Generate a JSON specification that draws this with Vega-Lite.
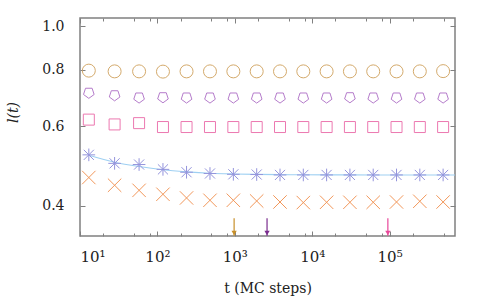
{
  "$schema": "https://vega.github.io/schema/vega-lite/v6.json",
  "width": 375,
  "height": 218,
  "autosize": "none",
  "padding": {"left": 80, "top": 18, "right": 25, "bottom": 64},
  "background": "white",
  "config": {
    "view": {"stroke": "#808080", "strokeWidth": 1.5},
    "font": "DejaVu Serif",
    "axis": {
      "labelFont": "DejaVu Serif",
      "titleFont": "DejaVu Serif",
      "labelFontSize": 14,
      "titleFontSize": 14,
      "titleFontWeight": "normal",
      "labelColor": "#222222",
      "titleColor": "#222222",
      "tickColor": "#808080",
      "tickWidth": 1,
      "domain": false,
      "grid": false
    }
  },
  "datasets": {
    "pts": [
      {"t": 13, "l": 0.797, "s": "circles"},
      {"t": 28, "l": 0.794, "s": "circles"},
      {"t": 58, "l": 0.794, "s": "circles"},
      {"t": 118, "l": 0.793, "s": "circles"},
      {"t": 238, "l": 0.794, "s": "circles"},
      {"t": 478, "l": 0.794, "s": "circles"},
      {"t": 958, "l": 0.794, "s": "circles"},
      {"t": 1918, "l": 0.794, "s": "circles"},
      {"t": 3838, "l": 0.794, "s": "circles"},
      {"t": 7678, "l": 0.794, "s": "circles"},
      {"t": 15358, "l": 0.794, "s": "circles"},
      {"t": 30718, "l": 0.794, "s": "circles"},
      {"t": 61438, "l": 0.794, "s": "circles"},
      {"t": 122878, "l": 0.794, "s": "circles"},
      {"t": 245758, "l": 0.794, "s": "circles"},
      {"t": 491518, "l": 0.795, "s": "circles"},
      {"t": 13, "l": 0.712, "s": "pentagons"},
      {"t": 28, "l": 0.703, "s": "pentagons"},
      {"t": 58, "l": 0.695, "s": "pentagons"},
      {"t": 118, "l": 0.696, "s": "pentagons"},
      {"t": 238, "l": 0.695, "s": "pentagons"},
      {"t": 478, "l": 0.695, "s": "pentagons"},
      {"t": 958, "l": 0.695, "s": "pentagons"},
      {"t": 1918, "l": 0.695, "s": "pentagons"},
      {"t": 3838, "l": 0.695, "s": "pentagons"},
      {"t": 7678, "l": 0.695, "s": "pentagons"},
      {"t": 15358, "l": 0.695, "s": "pentagons"},
      {"t": 30718, "l": 0.696, "s": "pentagons"},
      {"t": 61438, "l": 0.695, "s": "pentagons"},
      {"t": 122878, "l": 0.695, "s": "pentagons"},
      {"t": 245758, "l": 0.695, "s": "pentagons"},
      {"t": 491518, "l": 0.695, "s": "pentagons"},
      {"t": 13, "l": 0.621, "s": "squares"},
      {"t": 28, "l": 0.606, "s": "squares"},
      {"t": 58, "l": 0.610, "s": "squares"},
      {"t": 118, "l": 0.598, "s": "squares"},
      {"t": 238, "l": 0.598, "s": "squares"},
      {"t": 478, "l": 0.598, "s": "squares"},
      {"t": 958, "l": 0.598, "s": "squares"},
      {"t": 1918, "l": 0.598, "s": "squares"},
      {"t": 3838, "l": 0.598, "s": "squares"},
      {"t": 7678, "l": 0.598, "s": "squares"},
      {"t": 15358, "l": 0.598, "s": "squares"},
      {"t": 30718, "l": 0.598, "s": "squares"},
      {"t": 61438, "l": 0.598, "s": "squares"},
      {"t": 122878, "l": 0.598, "s": "squares"},
      {"t": 245758, "l": 0.598, "s": "squares"},
      {"t": 491518, "l": 0.598, "s": "squares"},
      {"t": 13, "l": 0.519, "s": "asterisks"},
      {"t": 28, "l": 0.497, "s": "asterisks"},
      {"t": 58, "l": 0.494, "s": "asterisks"},
      {"t": 118, "l": 0.482, "s": "asterisks"},
      {"t": 238, "l": 0.475, "s": "asterisks"},
      {"t": 478, "l": 0.472, "s": "asterisks"},
      {"t": 958, "l": 0.470, "s": "asterisks"},
      {"t": 1918, "l": 0.4695, "s": "asterisks"},
      {"t": 3838, "l": 0.4685, "s": "asterisks"},
      {"t": 7678, "l": 0.4685, "s": "asterisks"},
      {"t": 15358, "l": 0.4685, "s": "asterisks"},
      {"t": 30718, "l": 0.4685, "s": "asterisks"},
      {"t": 61438, "l": 0.4685, "s": "asterisks"},
      {"t": 122878, "l": 0.4685, "s": "asterisks"},
      {"t": 245758, "l": 0.4685, "s": "asterisks"},
      {"t": 491518, "l": 0.4685, "s": "asterisks"},
      {"t": 13, "l": 0.4624, "s": "crosses"},
      {"t": 28, "l": 0.4445, "s": "crosses"},
      {"t": 58, "l": 0.4332, "s": "crosses"},
      {"t": 118, "l": 0.4246, "s": "crosses"},
      {"t": 238, "l": 0.4167, "s": "crosses"},
      {"t": 478, "l": 0.4118, "s": "crosses"},
      {"t": 958, "l": 0.4118, "s": "crosses"},
      {"t": 1918, "l": 0.4103, "s": "crosses"},
      {"t": 3838, "l": 0.4082, "s": "crosses"},
      {"t": 7678, "l": 0.4070, "s": "crosses"},
      {"t": 15358, "l": 0.4076, "s": "crosses"},
      {"t": 30718, "l": 0.4076, "s": "crosses"},
      {"t": 61438, "l": 0.4076, "s": "crosses"},
      {"t": 122878, "l": 0.4082, "s": "crosses"},
      {"t": 245758, "l": 0.4097, "s": "crosses"},
      {"t": 491518, "l": 0.4082, "s": "crosses"}
    ],
    "fit": [
      {"t": 13, "l": 0.518},
      {"t": 28, "l": 0.500},
      {"t": 58, "l": 0.489},
      {"t": 118, "l": 0.481},
      {"t": 238, "l": 0.476},
      {"t": 478, "l": 0.4725},
      {"t": 958, "l": 0.4708},
      {"t": 1918, "l": 0.4698},
      {"t": 3838, "l": 0.4692},
      {"t": 7678, "l": 0.4689},
      {"t": 15358, "l": 0.4687},
      {"t": 30718, "l": 0.4686},
      {"t": 61438, "l": 0.4685},
      {"t": 122878, "l": 0.4685},
      {"t": 245758, "l": 0.4685},
      {"t": 700000, "l": 0.4685}
    ],
    "arrows": [
      {"t": 980, "top": 0.376, "bottom": 0.3437, "tip": 0.3487, "s": "arrow1"},
      {"t": 2610, "top": 0.376, "bottom": 0.3437, "tip": 0.3487, "s": "arrow2"},
      {"t": 95000, "top": 0.376, "bottom": 0.3437, "tip": 0.3487, "s": "arrow3"}
    ]
  },
  "layer": [
    {
      "data": {"name": "fit"},
      "mark": {"type": "line", "color": "#9fd0f2", "strokeWidth": 1.1, "interpolate": "monotone", "clip": true},
      "encoding": {
        "x": {
          "field": "t", "type": "quantitative",
          "scale": {"type": "log", "domain": [10, 700000], "nice": false},
          "axis": {
            "orient": "bottom",
            "values": [10, 100, 1000, 10000, 100000],
            "labelExpr": "'10' + ['⁰','¹','²','³','⁴','⁵','⁶'][round(log(datum.value)/LN10)]",
            "tickSize": -5,
            "labelPadding": 18,
            "labelFont": "DejaVu Serif",
            "labelFontSize": 15,
            "title": "t (MC steps)",
            "titleFont": "DejaVu Serif",
            "titlePadding": 17
          }
        },
        "y": {
          "field": "l", "type": "quantitative",
          "scale": {"type": "log", "domain": [0.3433, 1.042], "nice": false, "zero": false},
          "axis": {
            "orient": "left",
            "values": [0.4, 0.6, 0.8, 1.0],
            "format": ".1f",
            "tickSize": -5,
            "labelPadding": 21,
            "labelFont": "DejaVu Serif",
            "title": "l(t)",
            "titleFont": "DejaVu Serif",
            "titleFontStyle": "italic",
            "titleAngle": -90,
            "titleX": -67,
            "titleY": 94,
            "titleAlign": "center",
            "titleBaseline": "middle"
          }
        }
      }
    },
    {
      "data": {"name": "pts"},
      "mark": {"type": "point", "filled": false, "strokeWidth": 1, "opacity": 1},
      "encoding": {
        "x": {
          "field": "t", "type": "quantitative",
          "scale": {"type": "log", "domain": [10, 700000], "nice": false},
          "axis": {"orient": "top", "values": [10, 100, 1000, 10000, 100000], "labels": false, "tickSize": -5, "title": null}
        },
        "y": {
          "field": "l", "type": "quantitative",
          "scale": {"type": "log", "domain": [0.3433, 1.042], "nice": false, "zero": false},
          "axis": {"orient": "right", "values": [0.4, 0.6, 0.8, 1.0], "labels": false, "tickSize": -5, "title": null}
        },
        "color": {
          "field": "s", "type": "nominal",
          "scale": {
            "domain": ["circles", "pentagons", "squares", "asterisks", "crosses", "arrow1", "arrow2", "arrow3"],
            "range": ["#d4aa6c", "#b57ccb", "#ec78b0", "#9494dc", "#f2975a", "#c8902a", "#7b2d8e", "#e8489a"]
          },
          "legend": null
        },
        "shape": {
          "field": "s", "type": "nominal",
          "scale": {
            "domain": ["circles", "pentagons", "squares", "asterisks", "crosses"],
            "range": [
              "circle",
              "M0,1L0.951,0.309L0.588,-0.809L-0.588,-0.809L-0.951,0.309Z",
              "square",
              "M0,-1L0,1M-1,0L1,0M-0.8,-0.8L0.8,0.8M-0.8,0.8L0.8,-0.8",
              "M-1,-1L1,1M-1,1L1,-1"
            ]
          },
          "legend": null
        },
        "size": {
          "field": "s", "type": "nominal",
          "scale": {
            "type": "ordinal",
            "domain": ["circles", "pentagons", "squares", "asterisks", "crosses"],
            "range": [169, 125, 121, 160, 180]
          },
          "legend": null
        }
      }
    },
    {
      "data": {"name": "arrows"},
      "mark": {"type": "rule", "strokeWidth": 1.2},
      "encoding": {
        "x": {
          "field": "t", "type": "quantitative",
          "scale": {"type": "log", "domain": [10, 700000], "nice": false},
          "axis": {"orient": "bottom", "values": [20, 50, 80, 200, 500, 800, 2000, 5000, 8000, 20000, 50000, 80000, 200000, 500000], "labels": false, "tickSize": -3, "title": null}
        },
        "y": {
          "field": "top", "type": "quantitative",
          "scale": {"type": "log", "domain": [0.3433, 1.042], "nice": false, "zero": false},
          "axis": null
        },
        "y2": {"field": "bottom"},
        "color": {"field": "s", "type": "nominal", "legend": null}
      }
    },
    {
      "data": {"name": "arrows"},
      "mark": {"type": "point", "shape": "triangle-down", "filled": true, "size": 28, "opacity": 1},
      "encoding": {
        "x": {
          "field": "t", "type": "quantitative",
          "scale": {"type": "log", "domain": [10, 700000], "nice": false},
          "axis": {"orient": "top", "values": [20, 50, 80, 200, 500, 800, 2000, 5000, 8000, 20000, 50000, 80000, 200000, 500000], "labels": false, "tickSize": -3, "title": null}
        },
        "y": {
          "field": "tip", "type": "quantitative",
          "scale": {"type": "log", "domain": [0.3433, 1.042], "nice": false, "zero": false},
          "axis": null
        },
        "color": {"field": "s", "type": "nominal", "legend": null}
      }
    }
  ],
  "resolve": {"axis": {"x": "independent", "y": "independent"}}
}
